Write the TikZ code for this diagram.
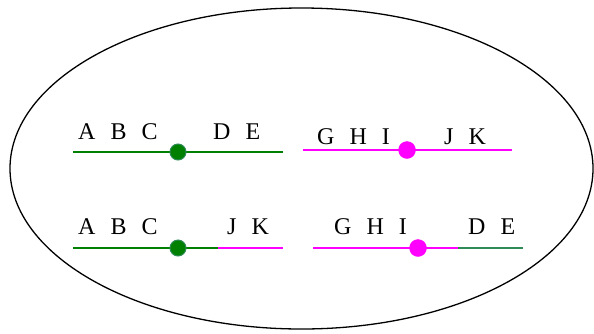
\documentclass[tikz,border=0pt]{standalone}
\usepackage{fontspec}
\setmainfont{Liberation Serif}
\usetikzlibrary{shapes.geometric}
\definecolor{dkgreen}{RGB}{0,128,0}
\definecolor{sgreen}{RGB}{46,139,87}
\definecolor{mag}{RGB}{255,0,255}
\newcommand\lblfont{\fontsize{24}{26}\selectfont\spaceskip=15pt plus 0pt minus 0pt\relax}
\begin{document}
\begin{tikzpicture}[x=1pt,y=-1pt,
  lbl/.style={anchor=base west,inner sep=0pt,font=\lblfont},
  gline/.style={draw=dkgreen,line width=1.5pt},
  mline/.style={draw=mag,line width=1.5pt},
  sline/.style={draw=sgreen,line width=1.5pt},
  gdot/.style={circle,fill=dkgreen,draw=sgreen,line width=1pt,minimum size=16pt,inner sep=0pt},
  mdot/.style={circle,fill=mag,draw=mag,minimum size=17pt,inner sep=0pt}]
\useasboundingbox (0,0) rectangle (594,333);
\node[draw=black,line width=1.3pt,ellipse,minimum width=583pt,minimum height=321pt,inner sep=0pt] (ell) at (301.5,168.5) {};
% row 1 left
\coordinate (g1a) at (73,152); \coordinate (g1b) at (283,152);
\draw[gline] (g1a) -- (g1b);
\node[gdot] (d1) at (178,152) {};
\node[lbl] (t1) at (78,139) {A B C};
\node[lbl] (t2) at (213,139) {D E};
% row 1 right
\coordinate (m1a) at (303,150); \coordinate (m1b) at (512,150);
\draw[mline] (m1a) -- (m1b);
\node[mdot] (d2) at (407,150) {};
\node[lbl] (t3) at (317,144) {G H I};
\node[lbl] (t4) at (444,144) {J K};
% row 2 left
\coordinate (g2a) at (73,248); \coordinate (g2m) at (218,248); \coordinate (g2b) at (283,248);
\draw[gline] (g2a) -- (g2m);
\draw[mline] (g2m) -- (g2b);
\node[gdot] (d3) at (178,248) {};
\node[lbl] (t5) at (78,234) {A B C};
\node[lbl] (t6) at (227,234) {J K};
% row 2 right
\coordinate (m2a) at (313,248); \coordinate (m2m) at (458,248); \coordinate (m2b) at (523,248);
\draw[mline] (m2a) -- (m2m);
\draw[sline] (m2m) -- (m2b);
\node[mdot] (d4) at (418,248) {};
\node[lbl] (t7) at (334,234) {G H I};
\node[lbl] (t8) at (468,234) {D E};
\end{tikzpicture}
\end{document}
